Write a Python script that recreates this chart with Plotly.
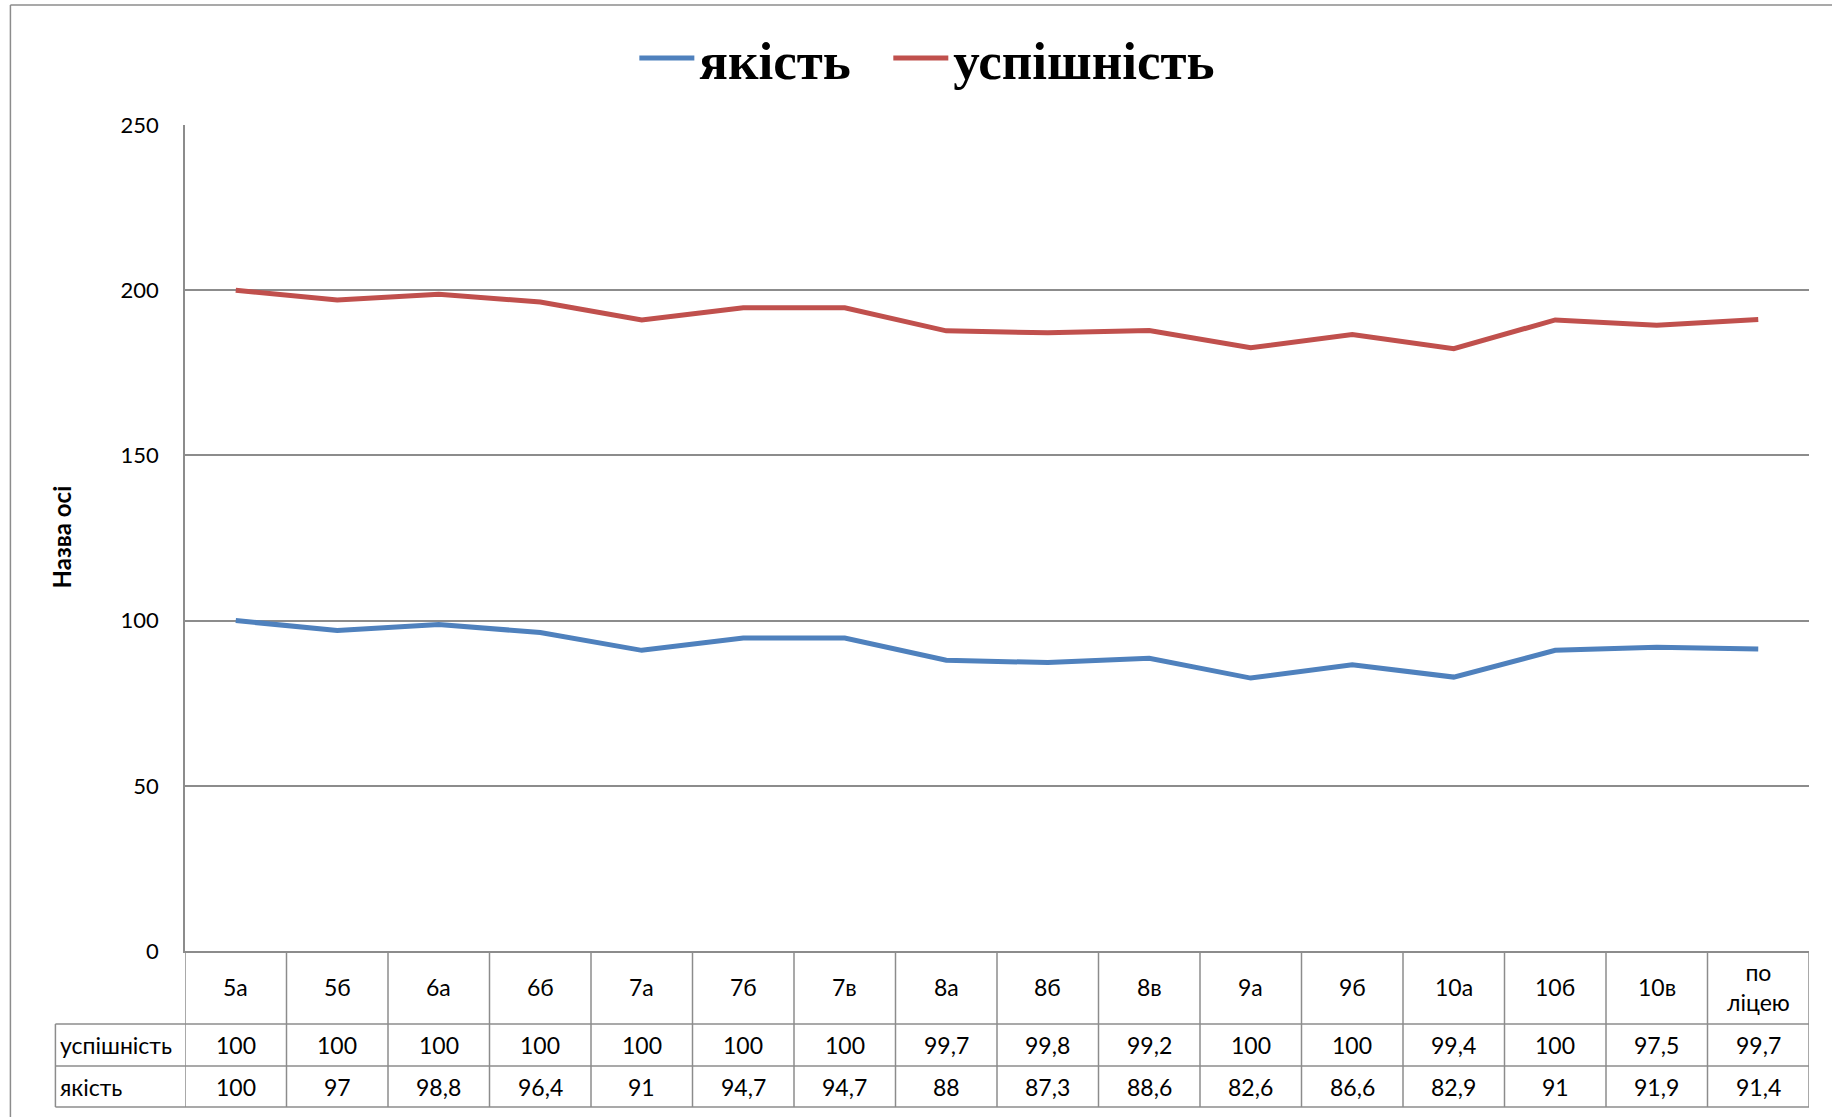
import plotly.graph_objects as go

# Classes and results (percent)
classes = ["5а", "5б", "6а", "6б", "7а", "7б", "7в", "8а", "8б", "8в",
           "9а", "9б", "10а", "10б", "10в", "по ліцею"]
uspishnist = [100, 100, 100, 100, 100, 100, 100, 99.7, 99.8, 99.2,
              100, 100, 99.4, 100, 97.5, 99.7]
yakist = [100, 97, 98.8, 96.4, 91, 94.7, 94.7, 88, 87.3, 88.6,
          82.6, 86.6, 82.9, 91, 91.9, 91.4]
y_ticks = [0, 50, 100, 150, 200, 250]

W, H = 1832, 1117
L, R, T, B = 184.6, 1808.8, 125, 951  # plot area in pixels

def px_x(p):
    return (p - L) / (R - L)

def px_y(p):
    return (B - p) / (B - T)

BLUE = "#4F81BD"
RED = "#C0504D"
GRID = "#8C8C8C"
SANS = "Lato, 'Open Sans', sans-serif"

fig = go.Figure()
fig.add_trace(go.Scatter(
    x=classes, y=yakist, name="якість", mode="lines",
    stackgroup="s", fill="none", legend="legend",
    line=dict(color=BLUE, width=5)))
fig.add_trace(go.Scatter(
    x=classes, y=uspishnist, name="успішність", mode="lines",
    stackgroup="s", fill="none", legend="legend2",
    line=dict(color=RED, width=5)))

shapes = []
annotations = []

# data table under the plot
row_lines = [px_y(1024), px_y(1066), px_y(1107)]
table_left = px_x(55)
for i in range(len(classes) + 1):
    shapes.append(dict(type="line", xref="x", yref="paper",
                       x0=i - 0.5, x1=i - 0.5, y0=0, y1=row_lines[-1],
                       line=dict(color=GRID, width=1.5)))
for yl in row_lines:
    shapes.append(dict(type="line", xref="paper", yref="paper",
                       x0=table_left, x1=1, y0=yl, y1=yl,
                       line=dict(color=GRID, width=1.5)))
shapes.append(dict(type="line", xref="paper", yref="paper",
                   x0=table_left, x1=table_left, y0=row_lines[0], y1=row_lines[-1],
                   line=dict(color=GRID, width=1.5)))

# outer chart border (left and top edges)
shapes.append(dict(type="line", xref="paper", yref="paper",
                   x0=px_x(10), x1=px_x(10), y0=px_y(5), y1=px_y(1117),
                   line=dict(color=GRID, width=1.5)))
shapes.append(dict(type="line", xref="paper", yref="paper",
                   x0=px_x(10), x1=px_x(1832), y0=px_y(5), y1=px_y(5),
                   line=dict(color=GRID, width=1.5)))

cell_font = dict(family=SANS, size=23, color="#000000")
hdr_y = px_y(987)
r1_y = px_y(1045)
r2_y = px_y(1086.5)
for i, c in enumerate(classes):
    label = c.replace(" ", "<br>")
    annotations.append(dict(x=i, y=hdr_y, xref="x", yref="paper", text=label,
                            showarrow=False, font=cell_font, xanchor="center",
                            yanchor="middle"))
    annotations.append(dict(x=i, y=r1_y, xref="x", yref="paper",
                            text=f"{uspishnist[i]:g}".replace(".", ","),
                            showarrow=False, font=cell_font, xanchor="center",
                            yanchor="middle"))
    annotations.append(dict(x=i, y=r2_y, xref="x", yref="paper",
                            text=f"{yakist[i]:g}".replace(".", ","),
                            showarrow=False, font=cell_font, xanchor="center",
                            yanchor="middle"))
annotations.append(dict(x=px_x(58), y=r1_y, xref="paper", yref="paper",
                        text="успішність", showarrow=False, font=cell_font,
                        xanchor="left", yanchor="middle"))
annotations.append(dict(x=px_x(58), y=r2_y, xref="paper", yref="paper",
                        text="якість", showarrow=False, font=cell_font,
                        xanchor="left", yanchor="middle"))

# axis title
annotations.append(dict(x=px_x(61), y=px_y(537), xref="paper", yref="paper",
                        text="<b>Назва осі</b>", textangle=-90, showarrow=False,
                        font=dict(family=SANS, size=24, color="#000000"),
                        xanchor="center", yanchor="middle"))

legend_font = dict(family="'Liberation Serif', 'Times New Roman', serif",
                   size=53, color="#000000", weight="bold")

fig.update_layout(
    width=W, height=H,
    margin=dict(l=L, r=W - R, t=T, b=H - B, pad=0),
    paper_bgcolor="white", plot_bgcolor="white",
    showlegend=True,
    legend=dict(orientation="h", x=px_x(634), y=px_y(58),
                xanchor="left", yanchor="middle", font=legend_font,
                itemwidth=55, bgcolor="rgba(0,0,0,0)"),
    legend2=dict(orientation="h", x=px_x(888), y=px_y(58),
                 xanchor="left", yanchor="middle", font=legend_font,
                 itemwidth=55, bgcolor="rgba(0,0,0,0)"),
    xaxis=dict(type="category", range=[-0.5, len(classes) - 0.5],
               showticklabels=False, showgrid=False, zeroline=False,
               showline=True, linecolor=GRID, linewidth=1.5, ticks=""),
    yaxis=dict(range=[0, 250], tickvals=y_ticks,
               ticktext=[str(v) for v in y_ticks],
               showgrid=True, gridcolor=GRID, gridwidth=1.5,
               zeroline=False, showline=True, linecolor=GRID, linewidth=1.5,
               ticks="", ticklabelstandoff=20,
               tickfont=dict(family=SANS, size=22, color="#000000")),
    shapes=shapes,
    annotations=annotations,
)

fig.write_html("out.html")
